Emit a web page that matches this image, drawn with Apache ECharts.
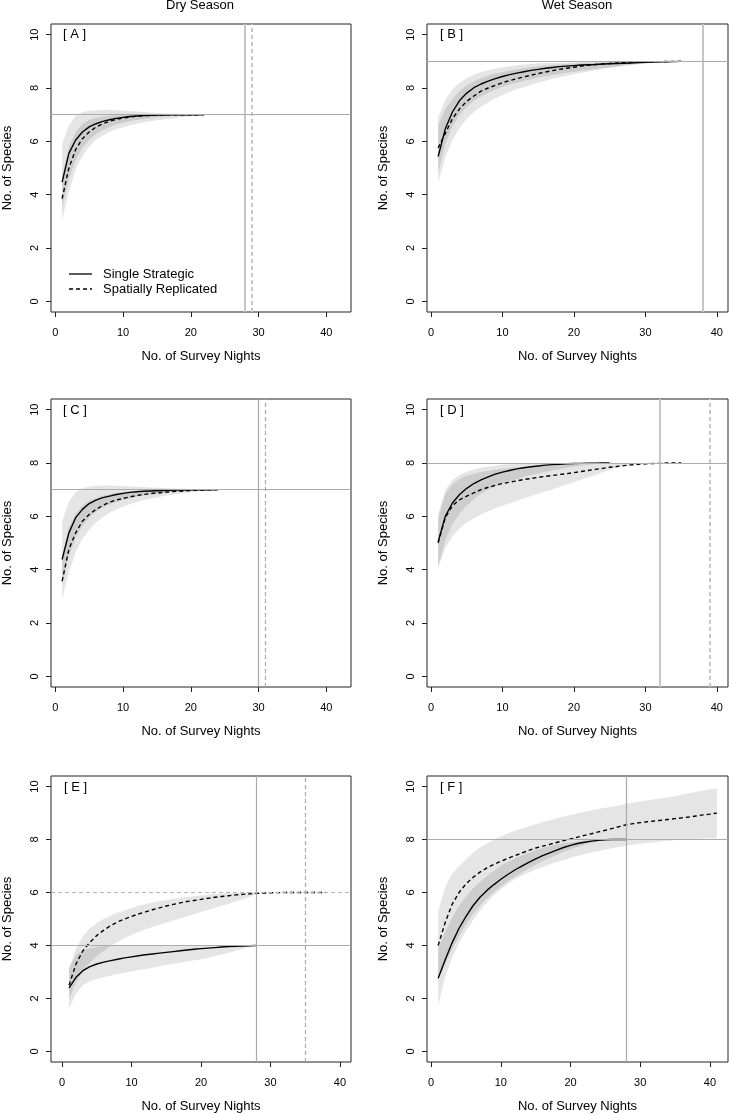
<!DOCTYPE html>
<html><head><meta charset="utf-8">
<script src="https://cdn.jsdelivr.net/npm/echarts@6/dist/echarts.min.js"></script>
<style>html,body{margin:0;padding:0;background:#fff}#c{width:729px;height:1114px}</style>
</head><body><div id="c"></div>
<script>
const FONT = '"Liberation Sans", Arial, Helvetica, sans-serif';

// ---------- Data (x = survey night 1..n) ----------
const xTicks = [0, 10, 20, 30, 40];
const yTicks = [0, 2, 4, 6, 8, 10];
const panelLabels = ['[ A ]', '[ B ]', '[ C ]', '[ D ]', '[ E ]', '[ F ]'];
const columnTitles = ['Dry Season', 'Wet Season'];
const legendNames = ['Single Strategic', 'Spatially Replicated'];

// reference lines per panel A..F
const vLineSolid = [28, 38, 30, 32, 28, 28];
const vLineDashed = [29, null, 31, 39, 35, null];
const hLineSolid = [7, 9, 7, 8, 4, 8];
const hLineDashed = [null, null, null, null, 6, null];
// x-axis extents (data range padded 4%)
const xMinA = -0.64, xMaxA = 43.64;
const xMinB = -0.56, xMaxB = 41.56;
const xMinE = -1.6, xMaxE = 41.6;
const xMinF = -0.6, xMaxF = 42.6;

// Panel A
const solidA = [4.47, 5.55, 6.05, 6.35, 6.54, 6.66, 6.75, 6.81, 6.86, 6.9, 6.93, 6.95, 6.97, 6.98, 6.985, 6.99, 6.993, 6.995, 6.997, 6.998, 6.999, 7.0];
const dashA = [3.85, 5.0, 5.69, 6.1, 6.35, 6.54, 6.66, 6.75, 6.82, 6.87, 6.91, 6.94, 6.96, 6.97, 6.98, 6.99, 6.993, 6.995, 6.997, 6.998, 6.999, 7.0];
const solidLoA = [3.5, 4.6, 5.3, 5.75, 6.05, 6.27, 6.42, 6.54, 6.63, 6.7, 6.76, 6.8, 6.84, 6.87, 6.9, 6.92, 6.94, 6.96, 6.97, 6.98, 6.99, 7.0];
const solidHiA = [5.9, 6.6, 6.95, 7.1, 7.15, 7.17, 7.18, 7.18, 7.17, 7.16, 7.14, 7.12, 7.1, 7.08, 7.06, 7.05, 7.04, 7.03, 7.02, 7.01, 7.005, 7.0];
const dashLoA = [3.05, 4.1, 4.95, 5.45, 5.8, 6.05, 6.22, 6.35, 6.45, 6.53, 6.6, 6.66, 6.71, 6.75, 6.79, 6.82, 6.85, 6.88, 6.91, 6.94, 6.97, 7.0];
const dashHiA = [4.7, 5.8, 6.35, 6.65, 6.8, 6.88, 6.93, 6.96, 6.98, 6.99, 7.0, 7.0, 7.0, 7.0, 7.0, 7.0, 7.0, 7.0, 7.0, 7.0, 7.0, 7.0];

// Panel B
const solidB = [5.43, 6.47, 7.1, 7.53, 7.81, 8.01, 8.15, 8.26, 8.35, 8.43, 8.5, 8.56, 8.61, 8.66, 8.7, 8.74, 8.77, 8.8, 8.82, 8.84, 8.86, 8.87, 8.88, 8.9, 8.91, 8.92, 8.93, 8.94, 8.95, 8.96, 8.97, 8.98, 8.985, 8.99, 9.0];
const dashB = [5.75, 6.3, 6.85, 7.22, 7.5, 7.7, 7.88, 8.0, 8.1, 8.2, 8.28, 8.35, 8.42, 8.48, 8.54, 8.6, 8.65, 8.7, 8.74, 8.78, 8.82, 8.85, 8.88, 8.9, 8.92, 8.94, 8.95, 8.96, 8.97, 8.98, 8.985, 8.99, 8.995, 9.0, 9.0];
const solidLoB = [4.8, 5.9, 6.55, 7.0, 7.3, 7.52, 7.68, 7.82, 7.94, 8.04, 8.13, 8.2, 8.27, 8.33, 8.39, 8.44, 8.49, 8.53, 8.57, 8.61, 8.65, 8.68, 8.71, 8.74, 8.77, 8.8, 8.83, 8.86, 8.89, 8.92, 8.94, 8.96, 8.98, 8.99, 9.0];
const solidHiB = [6.9, 7.55, 7.95, 8.2, 8.37, 8.5, 8.6, 8.67, 8.73, 8.78, 8.82, 8.85, 8.88, 8.9, 8.92, 8.93, 8.94, 8.95, 8.96, 8.97, 8.975, 8.98, 8.985, 8.99, 8.99, 8.995, 8.995, 9.0, 9.0, 9.0, 9.0, 9.0, 9.0, 9.0, 9.0];
const dashLoB = [4.45, 5.4, 6.05, 6.5, 6.85, 7.1, 7.3, 7.47, 7.62, 7.74, 7.85, 7.95, 8.04, 8.12, 8.2, 8.27, 8.34, 8.4, 8.46, 8.52, 8.57, 8.62, 8.67, 8.72, 8.76, 8.8, 8.84, 8.87, 8.9, 8.93, 8.95, 8.97, 8.98, 8.99, 9.0];
const dashHiB = [6.6, 7.2, 7.6, 7.9, 8.1, 8.25, 8.37, 8.46, 8.54, 8.6, 8.66, 8.7, 8.74, 8.78, 8.81, 8.84, 8.86, 8.88, 8.9, 8.92, 8.93, 8.94, 8.95, 8.96, 8.97, 8.975, 8.98, 8.985, 8.99, 8.99, 8.995, 8.995, 9.0, 9.0, 9.0];

// Panel C
const solidC = [4.38, 5.38, 5.95, 6.26, 6.48, 6.61, 6.7, 6.76, 6.82, 6.86, 6.9, 6.92, 6.94, 6.95, 6.96, 6.97, 6.98, 6.985, 6.99, 6.993, 6.995, 6.997, 6.999, 7.0];
const dashC = [3.57, 4.76, 5.38, 5.82, 6.07, 6.26, 6.41, 6.53, 6.61, 6.67, 6.73, 6.78, 6.82, 6.85, 6.88, 6.9, 6.92, 6.94, 6.95, 6.97, 6.98, 6.99, 6.995, 7.0];
const solidLoC = [3.4, 4.5, 5.2, 5.65, 5.95, 6.17, 6.32, 6.44, 6.54, 6.62, 6.68, 6.74, 6.78, 6.82, 6.85, 6.88, 6.9, 6.92, 6.94, 6.96, 6.97, 6.98, 6.99, 7.0];
const solidHiC = [5.82, 6.55, 6.9, 7.06, 7.12, 7.15, 7.16, 7.16, 7.15, 7.14, 7.13, 7.11, 7.1, 7.08, 7.07, 7.06, 7.05, 7.04, 7.03, 7.02, 7.015, 7.01, 7.005, 7.0];
const dashLoC = [2.88, 3.9, 4.65, 5.15, 5.5, 5.77, 5.97, 6.13, 6.26, 6.36, 6.45, 6.53, 6.6, 6.66, 6.71, 6.76, 6.8, 6.84, 6.87, 6.9, 6.93, 6.96, 6.98, 7.0];
const dashHiC = [4.5, 5.6, 6.1, 6.4, 6.58, 6.7, 6.78, 6.84, 6.88, 6.91, 6.93, 6.95, 6.96, 6.97, 6.98, 6.985, 6.99, 6.99, 6.995, 6.995, 7.0, 7.0, 7.0, 7.0];

// Panel D
const solidD = [5.05, 6.0, 6.5, 6.82, 7.05, 7.23, 7.37, 7.48, 7.58, 7.66, 7.72, 7.78, 7.82, 7.86, 7.89, 7.92, 7.94, 7.95, 7.97, 7.98, 7.985, 7.99, 7.995, 8.0, 8.0];
const dashD = [5.0, 5.95, 6.4, 6.62, 6.76, 6.88, 7.0, 7.09, 7.16, 7.23, 7.28, 7.33, 7.38, 7.42, 7.46, 7.5, 7.53, 7.57, 7.6, 7.64, 7.68, 7.72, 7.76, 7.8, 7.84, 7.87, 7.9, 7.93, 7.95, 7.97, 7.98, 7.99, 8.0, 8.0, 8.0];
const solidLoD = [4.1, 5.1, 5.7, 6.1, 6.4, 6.65, 6.85, 7.0, 7.12, 7.22, 7.32, 7.4, 7.48, 7.55, 7.61, 7.67, 7.72, 7.77, 7.82, 7.86, 7.9, 7.93, 7.96, 7.98, 8.0];
const solidHiD = [6.1, 7.0, 7.35, 7.55, 7.67, 7.76, 7.82, 7.87, 7.9, 7.93, 7.95, 7.96, 7.97, 7.98, 7.985, 7.99, 7.995, 8.0, 8.0, 8.0, 8.0, 8.0, 8.0, 8.0, 8.0];
const dashLoD = [4.07, 4.8, 5.25, 5.55, 5.77, 5.93, 6.07, 6.19, 6.3, 6.4, 6.49, 6.58, 6.67, 6.76, 6.85, 6.93, 7.01, 7.1, 7.19, 7.28, 7.37, 7.46, 7.55, 7.65, 7.74, 7.82, 7.88, 7.93, 7.97, 8.0];
const dashHiD = [5.9, 6.85, 7.2, 7.4, 7.52, 7.6, 7.66, 7.71, 7.75, 7.78, 7.81, 7.83, 7.85, 7.87, 7.89, 7.9, 7.91, 7.92, 7.93, 7.94, 7.95, 7.96, 7.965, 7.97, 7.975, 7.98, 7.985, 7.99, 7.995, 8.0];

// Panel E
const solidE = [2.4, 2.8, 3.05, 3.2, 3.3, 3.37, 3.43, 3.48, 3.53, 3.57, 3.61, 3.65, 3.68, 3.71, 3.74, 3.77, 3.8, 3.83, 3.86, 3.88, 3.9, 3.92, 3.94, 3.96, 3.97, 3.98, 3.99, 4.0];
const dashE = [2.5, 3.3, 3.8, 4.12, 4.38, 4.58, 4.75, 4.89, 5.0, 5.1, 5.19, 5.27, 5.35, 5.42, 5.49, 5.55, 5.61, 5.66, 5.7, 5.74, 5.78, 5.82, 5.85, 5.88, 5.91, 5.93, 5.95, 5.97, 5.98, 5.99, 5.995, 6.0, 6.0, 6.0, 6.0, 6.0, 6.0, 6.0];
const solidLoE = [1.6, 2.2, 2.5, 2.65, 2.73, 2.8, 2.86, 2.92, 2.97, 3.02, 3.07, 3.11, 3.16, 3.21, 3.26, 3.3, 3.35, 3.39, 3.44, 3.48, 3.54, 3.6, 3.66, 3.72, 3.8, 3.88, 3.95, 4.0];
const solidHiE = [3.17, 3.65, 3.82, 3.9, 3.95, 3.98, 3.99, 4.0, 4.0, 4.0, 4.0, 4.0, 4.0, 4.0, 4.0, 4.0, 4.0, 4.0, 4.0, 4.0, 4.0, 4.0, 4.0, 4.0, 4.0, 4.0, 4.0, 4.0];
const dashLoE = [1.95, 2.6, 3.05, 3.35, 3.6, 3.8, 3.98, 4.13, 4.27, 4.4, 4.51, 4.61, 4.7, 4.78, 4.86, 4.94, 5.02, 5.1, 5.18, 5.26, 5.34, 5.42, 5.5, 5.58, 5.66, 5.75, 5.84, 5.93];
const dashHiE = [3.1, 3.9, 4.35, 4.65, 4.85, 5.0, 5.13, 5.24, 5.33, 5.42, 5.5, 5.56, 5.62, 5.67, 5.72, 5.76, 5.8, 5.83, 5.86, 5.89, 5.92, 5.94, 5.96, 5.97, 5.98, 5.99, 6.0, 6.0];

// Panel F
const solidF = [2.76, 3.45, 4.1, 4.65, 5.1, 5.5, 5.82, 6.08, 6.3, 6.5, 6.68, 6.85, 7.0, 7.14, 7.27, 7.39, 7.5, 7.6, 7.7, 7.78, 7.85, 7.9, 7.94, 7.97, 7.99, 8.0, 8.0, 8.0];
const dashF = [4.0, 4.86, 5.55, 6.0, 6.33, 6.57, 6.77, 6.93, 7.06, 7.18, 7.29, 7.39, 7.49, 7.59, 7.68, 7.75, 7.82, 7.89, 7.96, 8.02, 8.09, 8.16, 8.22, 8.29, 8.35, 8.42, 8.49, 8.56, 8.6, 8.64, 8.67, 8.7, 8.73, 8.76, 8.79, 8.82, 8.85, 8.89, 8.93, 8.96, 9.0];
const solidLoF = [2.7, 3.3, 3.85, 4.35, 4.8, 5.18, 5.5, 5.78, 6.02, 6.23, 6.42, 6.6, 6.76, 6.91, 7.05, 7.18, 7.3, 7.42, 7.53, 7.63, 7.72, 7.8, 7.87, 7.94, 8.0];
const solidHiF = [3.9, 4.5, 5.05, 5.5, 5.85, 6.15, 6.4, 6.62, 6.82, 7.0, 7.15, 7.28, 7.4, 7.5, 7.6, 7.68, 7.75, 7.81, 7.86, 7.9, 7.93, 7.96, 7.98, 7.99, 8.0];
const dashLoF = [1.73, 2.8, 3.55, 4.1, 4.55, 4.95, 5.3, 5.62, 5.9, 6.12, 6.32, 6.5, 6.63, 6.76, 6.87, 6.97, 7.06, 7.15, 7.23, 7.3, 7.38, 7.45, 7.51, 7.57, 7.62, 7.67, 7.72, 7.77, 7.8, 7.84, 7.87, 7.9, 7.93, 7.95, 7.97, 7.99, 8.01, 8.02, 8.04, 8.05, 8.06];
const dashHiF = [5.3, 6.2, 6.7, 7.0, 7.25, 7.5, 7.7, 7.85, 8.0, 8.12, 8.23, 8.33, 8.42, 8.5, 8.58, 8.66, 8.73, 8.8, 8.87, 8.93, 8.99, 9.05, 9.1, 9.15, 9.2, 9.25, 9.3, 9.35, 9.4, 9.44, 9.48, 9.52, 9.56, 9.6, 9.64, 9.7, 9.75, 9.8, 9.85, 9.9, 9.94];

// ---------- Layout ----------
const panels = [
  { grid: { left: 50, top: 24, width: 301, height: 288 }, xr: [xMinA, xMaxA], solid: solidA, dash: dashA, sLo: solidLoA, sHi: solidHiA, dLo: dashLoA, dHi: dashHiA, thickRef: true, lab: [63, 34] },
  { grid: { left: 427, top: 24, width: 301, height: 288 }, xr: [xMinB, xMaxB], solid: solidB, dash: dashB, sLo: solidLoB, sHi: solidHiB, dLo: dashLoB, dHi: dashHiB, thickRef: true, lab: [440, 34] },
  { grid: { left: 50, top: 399, width: 301, height: 288 }, xr: [xMinA, xMaxA], solid: solidC, dash: dashC, sLo: solidLoC, sHi: solidHiC, dLo: dashLoC, dHi: dashHiC, thickRef: false, lab: [63, 410] },
  { grid: { left: 427, top: 399, width: 301, height: 288 }, xr: [xMinB, xMaxB], solid: solidD, dash: dashD, sLo: solidLoD, sHi: solidHiD, dLo: dashLoD, dHi: dashHiD, thickRef: true, lab: [440, 410] },
  { grid: { left: 50, top: 776, width: 301, height: 287 }, xr: [xMinE, xMaxE], solid: solidE, dash: dashE, sLo: solidLoE, sHi: solidHiE, dLo: dashLoE, dHi: dashHiE, thickRef: false, lab: [64, 787] },
  { grid: { left: 427, top: 776, width: 301, height: 287 }, xr: [xMinF, xMaxF], solid: solidF, dash: dashF, sLo: solidLoF, sHi: solidHiF, dLo: dashLoF, dHi: dashHiF, thickRef: false, lab: [440, 787] }
];

const pts = arr => arr.map((v, i) => [i + 1, v]);
const BAND = 'rgba(0,0,0,0.1)';
const DASH = [4, 3];

const grids = [], xAxes = [], yAxes = [], series = [], graphics = [];

panels.forEach((p, gi) => {
  grids.push(Object.assign({ show: true, borderColor: '#222', borderWidth: 1, backgroundColor: 'transparent' }, p.grid));
  xAxes.push({
    type: 'value', gridIndex: gi, min: p.xr[0], max: p.xr[1],
    axisLine: { show: false, onZero: false }, splitLine: { show: false },
    axisTick: { show: true, customValues: xTicks, length: 5, lineStyle: { color: '#222' } },
    axisLabel: { customValues: xTicks, margin: 15, fontSize: 11, color: '#000', fontFamily: FONT },
    name: 'No. of Survey Nights', nameLocation: 'middle', nameGap: 38,
    nameTextStyle: { fontSize: 13, color: '#000', fontFamily: FONT }
  });
  yAxes.push({
    type: 'value', gridIndex: gi, min: -0.4, max: 10.4,
    axisLine: { show: false, onZero: false }, splitLine: { show: false },
    axisTick: { show: true, customValues: yTicks, length: 5, lineStyle: { color: '#222' } },
    axisLabel: { customValues: yTicks, margin: 11, rotate: 90, fontSize: 11, color: '#000', fontFamily: FONT },
    name: 'No. of Species', nameLocation: 'middle', nameGap: 37,
    nameTextStyle: { fontSize: 13, color: '#000', fontFamily: FONT }
  });

  // confidence band polygons, positioned through the axes (api.coord)
  const addBand = (lo, hi) => {
    series.push({
      type: 'custom', xAxisIndex: gi, yAxisIndex: gi, silent: true, z: 1,
      data: lo.map((v, i) => [i + 1, v, hi[i]]),
      encode: { x: 0, y: [1, 2] },
      renderItem: (params, api) => {
        if (params.dataIndex !== 0) return null;
        const upper = hi.map((v, i) => api.coord([i + 1, v]));
        const lower = lo.map((v, i) => api.coord([i + 1, v])).reverse();
        return { type: 'polygon', shape: { points: upper.concat(lower) }, style: { fill: BAND, stroke: null } };
      }
    });
  };
  addBand(p.sLo, p.sHi);
  addBand(p.dLo, p.dHi);

  const refColor = p.thickRef ? '#c6c6c6' : '#a9a9a9';
  const refWidth = p.thickRef ? 2 : 1.2;
  const ml = [];
  ml.push({ xAxis: vLineSolid[gi], lineStyle: { color: refColor, width: refWidth, type: 'solid' } });
  if (vLineDashed[gi] != null) ml.push({ xAxis: vLineDashed[gi], lineStyle: { color: refColor, width: refWidth, type: [4, 3] } });
  ml.push({ yAxis: hLineSolid[gi], lineStyle: { color: '#ababab', width: 1.2, type: 'solid' } });
  if (hLineDashed[gi] != null) ml.push({ yAxis: hLineDashed[gi], lineStyle: { color: '#b5b5b5', width: 1.2, type: [4, 3] } });
  series.push({
    type: 'line', name: 'ref' + gi, xAxisIndex: gi, yAxisIndex: gi, data: pts(p.solid),
    symbol: 'none', lineStyle: { opacity: 0 }, silent: true, z: 2,
    markLine: { silent: true, symbol: 'none', label: { show: false }, animation: false, data: ml }
  });

  series.push({
    type: 'line', name: legendNames[0], xAxisIndex: gi, yAxisIndex: gi, data: pts(p.solid),
    symbol: 'none', itemStyle: { color: '#000' }, lineStyle: { color: '#000', width: 1.4 }, z: 3
  });
  series.push({
    type: 'line', name: legendNames[1], xAxisIndex: gi, yAxisIndex: gi, data: pts(p.dash),
    symbol: 'none', itemStyle: { color: '#000' }, lineStyle: { color: '#000', width: 1.4, type: DASH }, z: 3
  });

  graphics.push({
    type: 'text', x: p.lab[0], y: p.lab[1],
    style: { text: panelLabels[gi], font: '13px ' + FONT, fill: '#000', textAlign: 'left', textVerticalAlign: 'middle' }
  });
});

graphics.push({ type: 'text', x: 200, y: 5, style: { text: columnTitles[0], font: '13px ' + FONT, fill: '#000', textAlign: 'center', textVerticalAlign: 'middle' } });
graphics.push({ type: 'text', x: 577, y: 5, style: { text: columnTitles[1], font: '13px ' + FONT, fill: '#000', textAlign: 'center', textVerticalAlign: 'middle' } });

// legend keys (panel A)
graphics.push({ type: 'line', shape: { x1: 69, y1: 274, x2: 92, y2: 274 }, style: { stroke: '#000', lineWidth: 1.3 } });
graphics.push({ type: 'line', shape: { x1: 69, y1: 289, x2: 92, y2: 289 }, style: { stroke: '#000', lineWidth: 1.3, lineDash: DASH } });
graphics.push({ type: 'text', x: 103, y: 274, style: { text: legendNames[0], font: '13px ' + FONT, fill: '#000', textAlign: 'left', textVerticalAlign: 'middle' } });
graphics.push({ type: 'text', x: 103, y: 289, style: { text: legendNames[1], font: '13px ' + FONT, fill: '#000', textAlign: 'left', textVerticalAlign: 'middle' } });

const chart = echarts.init(document.getElementById('c'), null, { renderer: 'canvas' });
chart.setOption({
  animation: false,
  backgroundColor: '#fff',
  grid: grids, xAxis: xAxes, yAxis: yAxes, series: series,
  graphic: graphics
});
</script>
</body></html>
